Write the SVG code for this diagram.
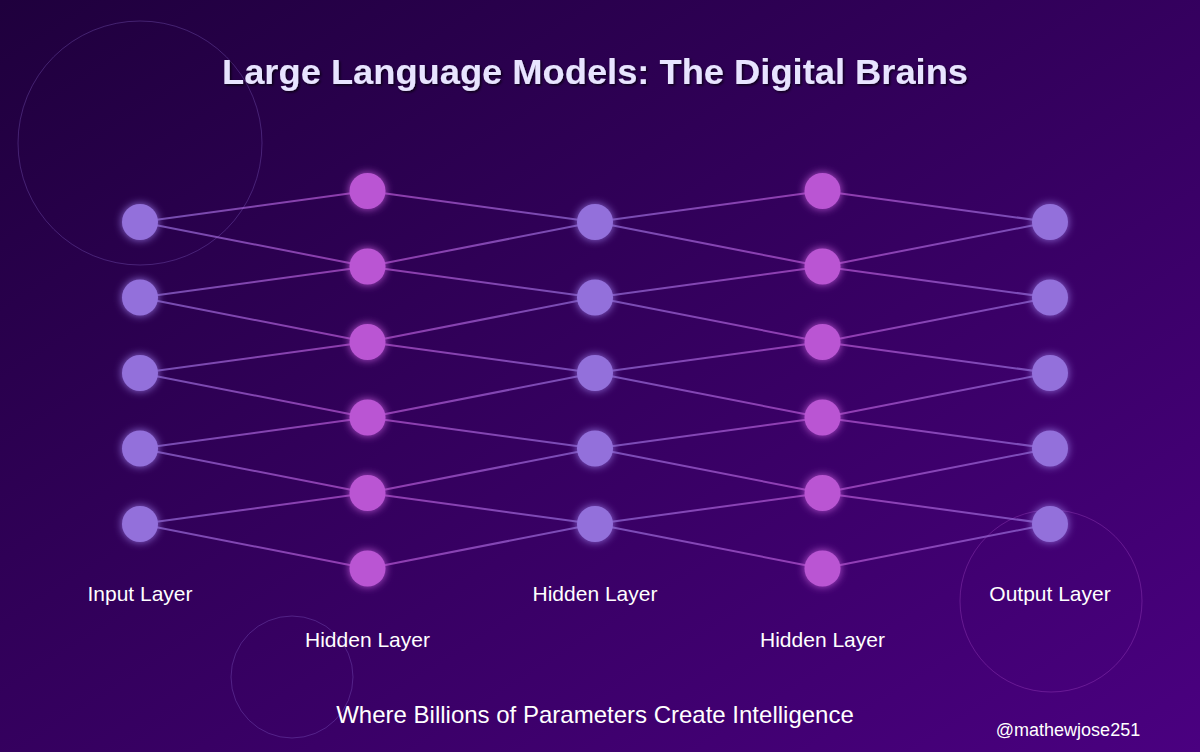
<svg xmlns="http://www.w3.org/2000/svg" width="1200" height="752" viewBox="0 0 1200 752">
<defs>
<linearGradient id="bg" x1="0" y1="0" x2="1" y2="1">
<stop offset="0" stop-color="#1f003d"/>
<stop offset="1" stop-color="#4a0080"/>
</linearGradient>
<linearGradient id="lr" x1="0" y1="0" x2="1" y2="0">
<stop offset="0" stop-color="#9370db"/>
<stop offset="1" stop-color="#ba55d3"/>
</linearGradient>
<linearGradient id="rl" x1="0" y1="0" x2="1" y2="0">
<stop offset="0" stop-color="#ba55d3"/>
<stop offset="1" stop-color="#9370db"/>
</linearGradient>
<filter id="glow" x="-100%" y="-100%" width="300%" height="300%">
<feGaussianBlur in="SourceGraphic" stdDeviation="4" result="b"/>
<feMerge><feMergeNode in="b"/><feMergeNode in="SourceGraphic"/></feMerge>
</filter>
<filter id="shadow" x="-5%" y="-30%" width="110%" height="160%">
<feDropShadow dx="1.5" dy="1.5" stdDeviation="1.2" flood-color="#000" flood-opacity="0.7"/>
</filter>
</defs>
<style>
.in{fill:#9370db;filter:url(#glow)}
.hd{fill:#ba55d3;filter:url(#glow)}
.c1{stroke:url(#lr);stroke-width:2;opacity:0.7;fill:none}
.c2{stroke:url(#rl);stroke-width:2;opacity:0.7;fill:none}
.lbl{font-family:"Liberation Sans",Arial,sans-serif;font-size:21px;fill:#ffffff;text-anchor:middle}
.deco{fill:none;stroke-width:1}
</style>
<rect width="1200" height="752" fill="url(#bg)"/>
<g id="decorations">
<circle class="deco" cx="140" cy="143" r="122" stroke="#9370db" stroke-opacity="0.3"/>
<circle class="deco" cx="292" cy="677" r="61" stroke="#9370db" stroke-opacity="0.3"/>
<circle class="deco" cx="1051" cy="601" r="91" stroke="#ba55d3" stroke-opacity="0.3"/>
</g>
<text id="title" x="595" y="84" font-family="Liberation Sans,Arial,sans-serif" font-size="35" font-weight="bold" fill="#e8e4ff" text-anchor="middle" textLength="746" lengthAdjust="spacingAndGlyphs" filter="url(#shadow)">Large Language Models: The Digital Brains</text>
<g id="connectors">
<line class="c1" x1="140" y1="222" x2="367.5" y2="191"/>
<line class="c1" x1="140" y1="222" x2="367.5" y2="266.5"/>
<line class="c1" x1="140" y1="297.5" x2="367.5" y2="266.5"/>
<line class="c1" x1="140" y1="297.5" x2="367.5" y2="342"/>
<line class="c1" x1="140" y1="373" x2="367.5" y2="342"/>
<line class="c1" x1="140" y1="373" x2="367.5" y2="417.5"/>
<line class="c1" x1="140" y1="448.5" x2="367.5" y2="417.5"/>
<line class="c1" x1="140" y1="448.5" x2="367.5" y2="493"/>
<line class="c1" x1="140" y1="524" x2="367.5" y2="493"/>
<line class="c1" x1="140" y1="524" x2="367.5" y2="568.5"/>
<line class="c2" x1="367.5" y1="191" x2="595" y2="222"/>
<line class="c2" x1="367.5" y1="266.5" x2="595" y2="222"/>
<line class="c2" x1="367.5" y1="266.5" x2="595" y2="297.5"/>
<line class="c2" x1="367.5" y1="342" x2="595" y2="297.5"/>
<line class="c2" x1="367.5" y1="342" x2="595" y2="373"/>
<line class="c2" x1="367.5" y1="417.5" x2="595" y2="373"/>
<line class="c2" x1="367.5" y1="417.5" x2="595" y2="448.5"/>
<line class="c2" x1="367.5" y1="493" x2="595" y2="448.5"/>
<line class="c2" x1="367.5" y1="493" x2="595" y2="524"/>
<line class="c2" x1="367.5" y1="568.5" x2="595" y2="524"/>
<line class="c1" x1="595" y1="222" x2="822.5" y2="191"/>
<line class="c1" x1="595" y1="222" x2="822.5" y2="266.5"/>
<line class="c1" x1="595" y1="297.5" x2="822.5" y2="266.5"/>
<line class="c1" x1="595" y1="297.5" x2="822.5" y2="342"/>
<line class="c1" x1="595" y1="373" x2="822.5" y2="342"/>
<line class="c1" x1="595" y1="373" x2="822.5" y2="417.5"/>
<line class="c1" x1="595" y1="448.5" x2="822.5" y2="417.5"/>
<line class="c1" x1="595" y1="448.5" x2="822.5" y2="493"/>
<line class="c1" x1="595" y1="524" x2="822.5" y2="493"/>
<line class="c1" x1="595" y1="524" x2="822.5" y2="568.5"/>
<line class="c2" x1="822.5" y1="191" x2="1050" y2="222"/>
<line class="c2" x1="822.5" y1="266.5" x2="1050" y2="222"/>
<line class="c2" x1="822.5" y1="266.5" x2="1050" y2="297.5"/>
<line class="c2" x1="822.5" y1="342" x2="1050" y2="297.5"/>
<line class="c2" x1="822.5" y1="342" x2="1050" y2="373"/>
<line class="c2" x1="822.5" y1="417.5" x2="1050" y2="373"/>
<line class="c2" x1="822.5" y1="417.5" x2="1050" y2="448.5"/>
<line class="c2" x1="822.5" y1="493" x2="1050" y2="448.5"/>
<line class="c2" x1="822.5" y1="493" x2="1050" y2="524"/>
<line class="c2" x1="822.5" y1="568.5" x2="1050" y2="524"/>
</g>
<g id="input-layer">
<circle class="in" cx="140" cy="222" r="18"/>
<circle class="in" cx="140" cy="297.5" r="18"/>
<circle class="in" cx="140" cy="373" r="18"/>
<circle class="in" cx="140" cy="448.5" r="18"/>
<circle class="in" cx="140" cy="524" r="18"/>
<text class="lbl" x="140" y="601">Input Layer</text>
</g>
<g id="hidden-layer-1">
<circle class="hd" cx="367.5" cy="191" r="18"/>
<circle class="hd" cx="367.5" cy="266.5" r="18"/>
<circle class="hd" cx="367.5" cy="342" r="18"/>
<circle class="hd" cx="367.5" cy="417.5" r="18"/>
<circle class="hd" cx="367.5" cy="493" r="18"/>
<circle class="hd" cx="367.5" cy="568.5" r="18"/>
<text class="lbl" x="367.5" y="646.5">Hidden Layer</text>
</g>
<g id="hidden-layer-2">
<circle class="in" cx="595" cy="222" r="18"/>
<circle class="in" cx="595" cy="297.5" r="18"/>
<circle class="in" cx="595" cy="373" r="18"/>
<circle class="in" cx="595" cy="448.5" r="18"/>
<circle class="in" cx="595" cy="524" r="18"/>
<text class="lbl" x="595" y="601">Hidden Layer</text>
</g>
<g id="hidden-layer-3">
<circle class="hd" cx="822.5" cy="191" r="18"/>
<circle class="hd" cx="822.5" cy="266.5" r="18"/>
<circle class="hd" cx="822.5" cy="342" r="18"/>
<circle class="hd" cx="822.5" cy="417.5" r="18"/>
<circle class="hd" cx="822.5" cy="493" r="18"/>
<circle class="hd" cx="822.5" cy="568.5" r="18"/>
<text class="lbl" x="822.5" y="646.5">Hidden Layer</text>
</g>
<g id="output-layer">
<circle class="in" cx="1050" cy="222" r="18"/>
<circle class="in" cx="1050" cy="297.5" r="18"/>
<circle class="in" cx="1050" cy="373" r="18"/>
<circle class="in" cx="1050" cy="448.5" r="18"/>
<circle class="in" cx="1050" cy="524" r="18"/>
<text class="lbl" x="1050" y="601">Output Layer</text>
</g>
<text id="subtitle" x="595" y="723" font-family="Liberation Sans,Arial,sans-serif" font-size="24" fill="#ffffff" text-anchor="middle">Where Billions of Parameters Create Intelligence</text>
<text id="credit" x="1068" y="736" font-family="Liberation Sans,Arial,sans-serif" font-size="18" fill="#ffffff" text-anchor="middle">@mathewjose251</text>
</svg>
